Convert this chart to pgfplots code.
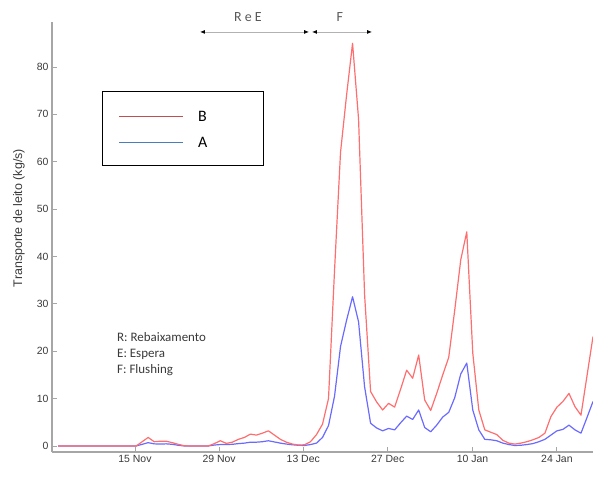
\documentclass[border=0pt]{standalone}
\usepackage{fontspec}
\setmainfont{Liberation Sans}
\newfontfamily\carlito{Carlito}
\usepackage{pgfplots}
\usepackage{pgfplotstable}
\pgfplotsset{compat=1.18}
\usetikzlibrary{arrows.meta}
\definecolor{lnRed}{HTML}{FF6E6E}
\definecolor{lnBlue}{HTML}{6A6AFF}
\definecolor{lgRed}{HTML}{C0504D}
\definecolor{lgBlue}{HTML}{4A7EBB}
\definecolor{axGray}{HTML}{A6A6A6}
\definecolor{txGray}{HTML}{3A3A3A}

% day index, B (red), A (blue)
\pgfplotstableread{
d  B     A
1  0     0
2  0     0
3  0     0
4  0     0
5  0     0
6  0     0
7  0     0
8  0     0
9  0     0
10 0     0
11 0     0
12 0     0
13 0     0
14 0     0
15 0.9   0.35
16 1.8   0.7
17 0.9   0.45
18 1.0   0.4
19 1.0   0.45
20 0.7   0.35
21 0.35  0.15
22 0.05  0
23 0     0
24 0     0
25 0     0
26 0     0
27 0.5   0.2
28 1.1   0.3
29 0.55  0.3
30 0.8   0.35
31 1.4   0.5
32 1.8   0.6
33 2.5   0.8
34 2.3   0.8
35 2.7   0.9
36 3.2   1.1
37 2.3   0.85
38 1.4   0.6
39 0.8   0.4
40 0.4   0.25
41 0.2   0.15
42 0.25  0.1
43 0.9   0.3
44 2.4   0.6
45 4.6   1.8
46 10    4.3
47 37    10.5
48 62    21
49 74    26.5
50 85    31.5
51 69    26.2
52 32    12.5
53 11.5  4.8
54 9.3   3.8
55 7.6   3.2
56 9.0   3.7
57 8.2   3.4
58 12    4.9
59 16    6.3
60 14.3  5.6
61 19.2  7.6
62 9.7   3.9
63 7.5   3.0
64 11.1  4.4
65 15    6.1
66 18.7  7.1
67 28.7  10.2
68 39.3  15.2
69 45.2  17.5
70 19.6  7.6
71 7.6   3.4
72 3.4   1.4
73 2.9   1.3
74 2.4   1.1
75 1.2   0.6
76 0.6   0.3
77 0.4   0.1
78 0.6   0.15
79 0.9   0.3
80 1.3   0.5
81 1.8   0.9
82 2.7   1.4
83 6.2   2.3
84 8.2   3.2
85 9.4   3.5
86 11.1  4.4
87 8.3   3.4
88 6.5   2.7
89 14.8  6.0
90 23.1  9.4
}\transp

\begin{document}
\begin{tikzpicture}
\begin{axis}[
  name=ax, scale only axis, width=541bp, height=430bp,
  xmin=0, xmax=90, ymin=-1.27, ymax=89.5,
  axis lines*=left, axis line style={axGray, line width=1.6bp},
  xtick={13.8,27.8,41.8,55.85,69.95,84.0},
  xticklabels={15 Nov,29 Nov,13 Dec,27 Dec,10 Jan,24 Jan},
  ytick={0,10,...,80},
  tick align=inside, major tick length=5bp,
  tick style={axGray, line width=0.9bp},
  /pgf/number format/assume math mode=true,
  tick label style={font=\fontsize{10.5}{12}\selectfont, text=txGray},
  ylabel={Transporte de leito (kg/s)},
  ylabel style={at={(axis description cs:-0.061,0.544)}, anchor=center,
    font=\fontsize{12.5}{14}\selectfont, text=txGray},
  clip=false,
]
\addplot[lnBlue, line width=1.2bp, line join=round, no markers] table[x=d, y=A] {\transp};
\addplot[lnRed, line width=1.2bp, line join=round, no markers] table[x=d, y=B] {\transp};

% legend box
\draw[black, line width=0.8bp] (axis cs:8.32,74.93) rectangle (axis cs:35.10,59.31);
\draw[lgRed, line width=1.4bp] (axis cs:11.2,69.5) -- (axis cs:21.84,69.5);
\draw[lgBlue, line width=1.4bp] (axis cs:11.2,64.02) -- (axis cs:21.84,64.02);
\node[anchor=west, inner sep=0pt, font=\carlito\fontsize{16}{18}\selectfont] at (axis cs:24.29,69.5) {B};
\node[anchor=west, inner sep=0pt, font=\carlito\fontsize{16}{18}\selectfont] at (axis cs:24.29,64.02) {A};

% phase arrows
\draw[gray!60, line width=0.8bp, {Latex[length=5bp,width=4bp,color=black]}-{Latex[length=5bp,width=4bp,color=black]}]
  (axis cs:24.62,87.4) -- (axis cs:42.76,87.4);
\draw[gray!60, line width=0.8bp, {Latex[length=5bp,width=4bp,color=black]}-{Latex[length=5bp,width=4bp,color=black]}]
  (axis cs:43.25,87.4) -- (axis cs:53.24,87.4);
\node[font=\carlito\fontsize{14}{16}\selectfont, text=black!65] at (axis cs:32.6,90.55) {R e E};
\node[font=\carlito\fontsize{14}{16}\selectfont, text=black!65] at (axis cs:47.9,90.55) {F};

% notes
\node[anchor=base west, inner sep=0pt, font=\carlito\fontsize{13}{15}\selectfont, text=txGray] at (axis cs:10.81,22.01) {R: Rebaixamento};
\node[anchor=base west, inner sep=0pt, font=\carlito\fontsize{13}{15}\selectfont, text=txGray] at (axis cs:10.81,18.72) {E: Espera};
\node[anchor=base west, inner sep=0pt, font=\carlito\fontsize{13}{15}\selectfont, text=txGray] at (axis cs:10.81,15.34) {F: Flushing};
\end{axis}
\pgfresetboundingbox
\path[use as bounding box] ([shift={(-52bp,-25bp)}]ax.south west) rectangle ([shift={(0bp,22bp)}]ax.north east);
\end{tikzpicture}
\end{document}
